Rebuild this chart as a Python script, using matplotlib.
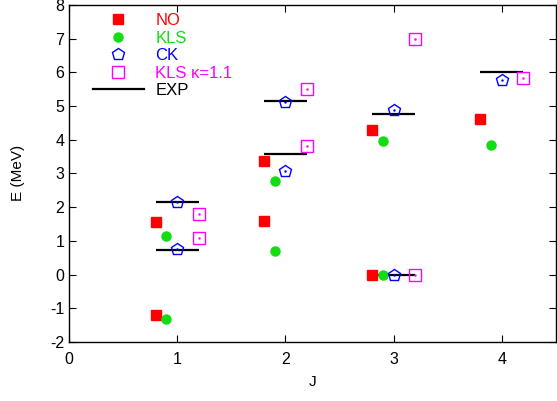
import matplotlib
matplotlib.use("Agg")
import matplotlib.pyplot as plt
import numpy as np
from matplotlib.lines import Line2D

plt.rcParams["font.family"] = ["Liberation Sans", "DejaVu Sans"]
plt.rcParams["font.size"] = 11
plt.rcParams["axes.unicode_minus"] = False

# angular momentum of each level
J_vals = [1, 1, 2, 2, 3, 3, 4]

# energies (MeV) per model
no_E = [1.55, -1.19, 3.38, 1.60, 4.28, 0.0, 4.61]
kls_E = [1.13, -1.33, 2.77, 0.70, 3.97, 0.0, 3.83]
ck_E = [2.16, 0.75, 5.13, 3.08, 4.89, 0.0, 5.77]
klsk_E = [1.79, 1.10, 5.49, 3.80, 7.00, 0.0, 5.82]
exp_E = [2.15, 0.72, 5.15, 3.57, 4.75, 0.0, 6.02]

J = np.array(J_vals, dtype=float)

fig = plt.figure(figsize=(5.57, 4.01), dpi=100)
ax = fig.add_axes([0.124, 0.147, 0.874, 0.841])

green = "#11dd11"
ax.hlines(exp_E, J - 0.2, J + 0.2, colors="black", lw=1.6, zorder=1)
ax.plot(J - 0.2, no_E, ls="none", marker="s", ms=6.5, color="red", mec="red", zorder=3)
ax.plot(J - 0.1, kls_E, ls="none", marker="o", ms=6.5, color=green, mec=green, zorder=3)
ax.plot(J, ck_E, ls="none", marker="p", ms=9, mfc="none", mec="blue", mew=1.0, zorder=4)
ax.plot(J, ck_E, ls="none", marker=".", ms=1.5, color="blue", zorder=4)
ax.plot(J + 0.2, klsk_E, ls="none", marker="s", ms=8.5, mfc="none", mec="magenta", mew=1.0, zorder=4)
ax.plot(J + 0.2, klsk_E, ls="none", marker=".", ms=1.5, color="magenta", zorder=4)

ax.set_xlim(0, 4.5)
ax.set_ylim(-2, 8)
ax.set_xticks([0, 1, 2, 3, 4])
ax.set_yticks(range(-2, 9))
ax.tick_params(direction="in", length=5, top=True, right=True, labelsize=11.5)
ax.tick_params(axis="x", pad=7)
ax.set_xlabel("J", labelpad=6)
ax.set_ylabel("E (MeV)", labelpad=18)
for s in ax.spines.values():
    s.set_linewidth(1.0)

handles = [
    Line2D([], [], ls="none", marker="s", ms=6.5, color="red"),
    Line2D([], [], ls="none", marker="o", ms=6.5, color=green),
    Line2D([], [], ls="none", marker="p", ms=9, mfc="none", mec="blue"),
    Line2D([], [], ls="none", marker="s", ms=8.5, mfc="none", mec="magenta"),
    Line2D([], [], color="black", lw=1.6),
]
labels = ["NO", "KLS", "CK", "KLS \u03ba=1.1", "EXP"]
ax.legend(handles, labels, loc="upper left", bbox_to_anchor=(0.018, 1.02),
          frameon=False, handlelength=3.05, handletextpad=0.7, labelspacing=0.15,
          labelcolor=["red", green, "blue", "magenta", "black"], fontsize=12)

fig.savefig("out.png", dpi=100)
